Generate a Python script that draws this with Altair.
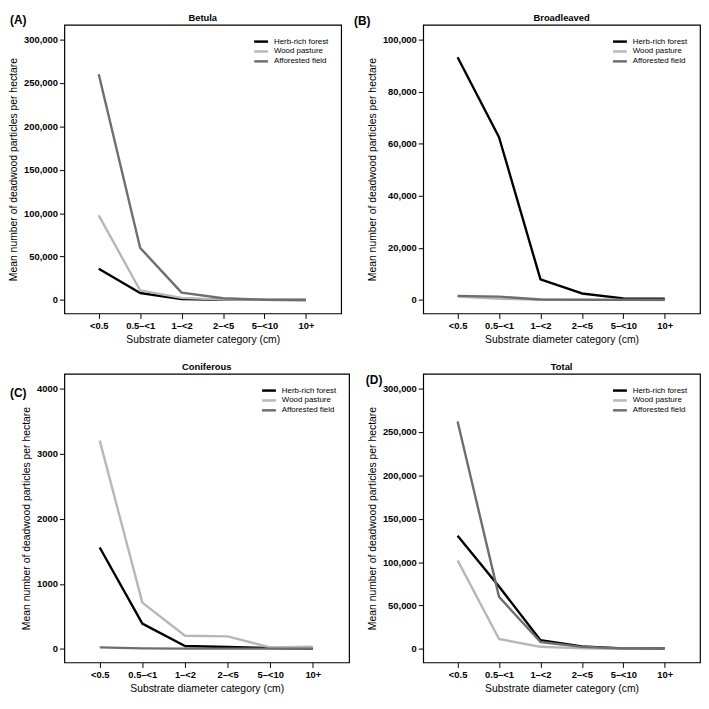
import json
import altair as alt
import pandas as pd

FONT = "Liberation Sans"

categories = ["<0.5", "0.5–<1", "1–<2", "2–<5", "5–<10", "10+"]
series = ["Herb-rich forest", "Wood pasture", "Afforested field"]
colors = ["#000000", "#b7b7b7", "#6e6e6e"]

# (A) Betula
betula_herb = [36000, 8100, 1000, 300, 100, 50]
betula_wood = [97500, 11000, 2500, 500, 100, 50]
betula_aff = [260000, 60000, 8500, 2000, 300, 100]
# (B) Broadleaved
broad_herb = [93200, 62500, 7900, 2500, 600, 500]
broad_wood = [1300, 500, 100, 50, 30, 20]
broad_aff = [1600, 1300, 200, 100, 50, 50]
# (C) Coniferous
conif_herb = [1558, 390, 45, 30, 15, 5]
conif_wood = [3200, 712, 203, 193, 25, 35]
conif_aff = [25, 10, 5, 5, 5, 5]
# (D) Total
total_herb = [130500, 72000, 10000, 3000, 700, 500]
total_wood = [102000, 11500, 2500, 700, 200, 100]
total_aff = [262000, 60000, 8000, 2500, 400, 200]

ticks_big = [0, 50000, 100000, 150000, 200000, 250000, 300000]
ticks_broad = [0, 20000, 40000, 60000, 80000, 100000]
ticks_conif = [0, 1000, 2000, 3000, 4000]

H = 292
label_expr = json.dumps(categories, ensure_ascii=False) + "[datum.value - 1]"


def panel(herb, wood, aff, title, letter, top, ticks, fmt, width, lx, ly):
    rows = []
    for s, vals in zip(series, [herb, wood, aff]):
        for i, v in enumerate(vals):
            rows.append({"idx": i + 1, "category": categories[i], "series": s, "value": v})
    df = pd.DataFrame(rows)
    lo = -top * 15.5 / 300.0
    hi = top * 317.0 / 300.0
    lines = alt.Chart(df).mark_line(strokeWidth=2.4, strokeJoin="round").encode(
        x=alt.X(
            "idx:Q",
            scale=alt.Scale(domain=[0.17, 6.85], nice=False, zero=False),
            axis=alt.Axis(values=[1, 2, 3, 4, 5, 6], labelExpr=label_expr, grid=False,
                          title="Substrate diameter category (cm)", titlePadding=5,
                          titleFontWeight="normal"),
        ),
        y=alt.Y(
            "value:Q",
            scale=alt.Scale(domain=[lo, hi], nice=False, zero=False),
            axis=alt.Axis(values=ticks, format=fmt, grid=False,
                          title="Mean number of deadwood  particles per hectare",
                          titlePadding=5, titleFontWeight="normal"),
        ),
        color=alt.Color(
            "series:N",
            scale=alt.Scale(domain=series, range=colors),
            sort=series,
            legend=alt.Legend(title=None, orient="top-right", offset=12,
                              symbolType="M-2,0H2", symbolStrokeWidth=2.5,
                              symbolSize=49, labelFontSize=8, labelFont=FONT,
                              labelColor="black", rowPadding=0, padding=0,
                              labelOffset=8),
        ),
    )
    lbl = alt.Chart(pd.DataFrame({"t": [letter]})).mark_text(
        align="left", baseline="middle", fontSize=12, fontWeight="bold",
        font=FONT, color="black"
    ).encode(x=alt.value(lx), y=alt.value(ly), text="t:N")
    ttl = alt.Chart(pd.DataFrame({"t": [title]})).mark_text(
        align="center", baseline="middle", fontSize=9.5, fontWeight="bold",
        font=FONT, color="black"
    ).encode(x=alt.value(width / 2), y=alt.value(-6.5), text="t:N")
    return alt.layer(lines, lbl, ttl).properties(
        width=width, height=H,
        view=alt.ViewBackground(stroke="black", strokeWidth=1.2),
    )


pA = panel(betula_herb, betula_wood, betula_aff, "Betula", "(A)", 300000,
           ticks_big, ",.0f", 280, -55, -4.5)
pB = panel(broad_herb, broad_wood, broad_aff, "Broadleaved", "(B)", 100000,
           ticks_broad, ",.0f", 280, -70, -4)
pC = panel(conif_herb, conif_wood, conif_aff, "Coniferous", "(C)", 4000,
           ticks_conif, "d", 288, -55, 19)
pD = panel(total_herb, total_wood, total_aff, "Total", "(D)", 300000,
           ticks_big, ",.0f", 280, -58, 6)

chart = alt.concat(
    pA, pB, pC, pD, columns=2, spacing={"row": 61, "column": 75}, bounds="flush"
).resolve_legend(color="independent").properties(
    padding=0, background="white"
).configure_view(
    stroke="black", strokeWidth=1.2
).configure_axis(
    domain=False, grid=False, tickColor="black", tickSize=5, tickWidth=1,
    labelFont=FONT, labelFontSize=9.5, labelFontWeight="bold", labelColor="black",
    labelPadding=2,
    titleFont=FONT, titleFontSize=10.5, titleFontWeight="normal", titleColor="black",
)

chart.save("out.html", embed_options={"renderer": "svg", "actions": False})
